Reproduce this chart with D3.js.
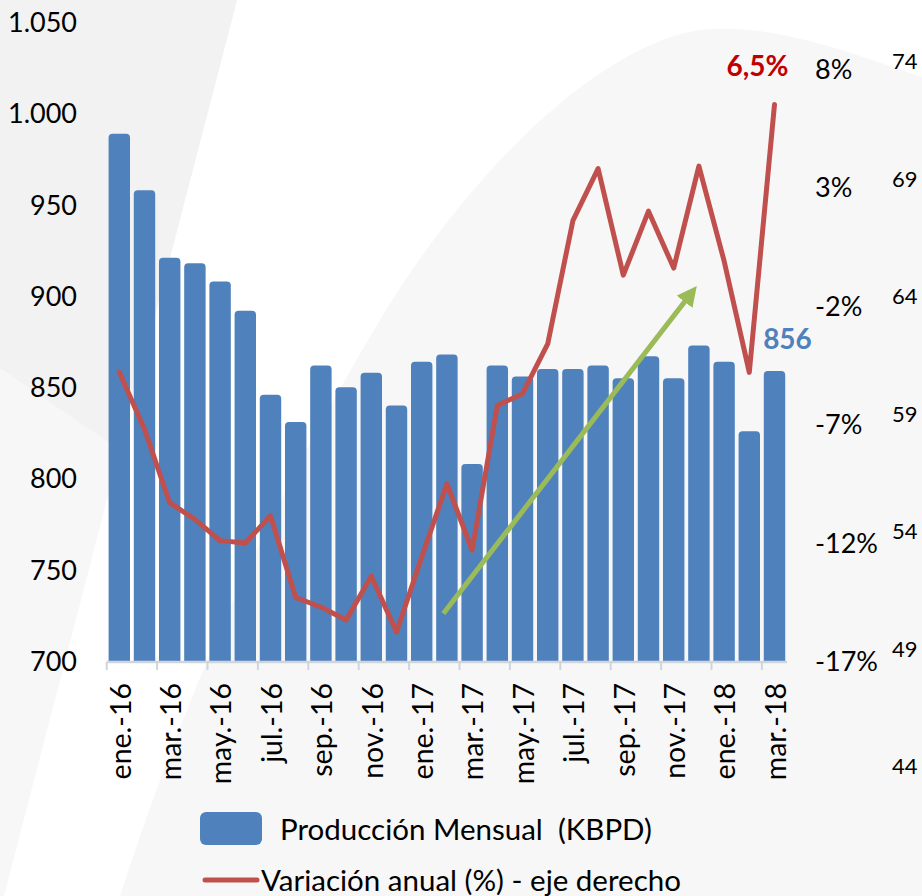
<!DOCTYPE html>
<html>
<head>
<meta charset="utf-8">
<script src="https://cdn.jsdelivr.net/npm/d3@7"></script>
<style>
  html, body { margin: 0; padding: 0; background: #fff; }
  svg { display: block; font-family: Lato, "Open Sans", sans-serif; }
</style>
</head>
<body>
<div id="chart"></div>
<script>
// monthly production (KBPD) and annual change (%)
const months = ["ene.-16","feb.-16","mar.-16","abr.-16","may.-16","jun.-16","jul.-16","ago.-16","sep.-16","oct.-16","nov.-16","dic.-16",
  "ene.-17","feb.-17","mar.-17","abr.-17","may.-17","jun.-17","jul.-17","ago.-17","sep.-17","oct.-17","nov.-17","dic.-17",
  "ene.-18","feb.-18","mar.-18"];
const production = [989, 958, 921, 918, 908, 892, 846, 831, 862, 850, 858, 840,
  864, 868, 808, 862, 856, 860, 860, 862, 855, 867, 855, 873, 864, 826, 859];
const variation = [-4.8, -7.2, -10.3, -11.0, -11.9, -12.0, -10.85, -14.3, -14.7, -15.25, -13.4, -15.75,
  -12.6, -9.5, -12.3, -6.2, -5.7, -3.6, 1.6, 3.8, -0.7, 2.0, -0.4, 3.9, -0.1, -4.8, 6.5];
const leftTicks = [700, 750, 800, 850, 900, 950, 1000, 1050];
const pctTicks = [-17, -12, -7, -2, 3, 8];
const ghostTicks = [44, 49, 54, 59, 64, 69, 74];
const lastProdLabel = 856;
const trendArrow = [[12.86, 726], [23, 907]]; // [category index, KBPD]

const W = 922, H = 896;
const svg = d3.select("#chart").append("svg").attr("width", W).attr("height", H);

// background decoration
svg.append("rect").attr("width", W).attr("height", H).attr("fill", "#f7f7f7");
svg.append("path")
  .attr("d", "M237,0 L922,0 L922,77 C850,52 770,22 700,30 C600,45 470,170 380,320 C290,470 200,650 120,896 L4,896 Z")
  .attr("fill", "#ffffff");
svg.append("path")
  .attr("d", "M0,0 L237,0 L120,450 L0,368 Z")
  .attr("fill", "#f2f2f2");

// scales
const x = d3.scaleBand().domain(months).range([106.7, 787.1]).paddingInner(0.15).paddingOuter(0.075);
const y = d3.scaleLinear().domain([700, 1050]).range([661, 22.5]);
const yPct = d3.scaleLinear().domain([-17, 8]).range([661.5, 69]);
const yGhost = d3.scaleLinear().domain([44, 74]).range([766, 61.5]);
const cx = d => x(d) + x.bandwidth() / 2;
const xIdx = d3.scaleLinear().domain([0, months.length - 1]).range([cx(months[0]), cx(months[months.length - 1])]);

// bars with rounded tops
const r = 4;
svg.append("g").selectAll("path")
  .data(production)
  .join("path")
  .attr("fill", "#4f81bd")
  .attr("d", (d, i) => {
    const x0 = x(months[i]), w = x.bandwidth(), y0 = y(d), yb = y(700);
    return `M${x0},${yb} V${y0 + r} Q${x0},${y0} ${x0 + r},${y0} H${x0 + w - r} Q${x0 + w},${y0} ${x0 + w},${y0 + r} V${yb} Z`;
  });

// category axis
const axisY = y(700) + 1;
svg.append("line")
  .attr("x1", x.range()[0]).attr("x2", x.range()[1])
  .attr("y1", axisY).attr("y2", axisY)
  .attr("stroke", "#d0d5dc").attr("stroke-width", 2.5);
svg.append("g").selectAll("line")
  .data(months.filter((m, i) => i % 2 === 0))
  .join("line")
  .attr("x1", d => x(d) - x.step() * x.paddingInner() / 2)
  .attr("x2", d => x(d) - x.step() * x.paddingInner() / 2)
  .attr("y1", axisY).attr("y2", axisY + 8)
  .attr("stroke", "#d0d5dc").attr("stroke-width", 2);
svg.append("g").selectAll("text")
  .data(months.filter((m, i) => i % 2 === 0))
  .join("text")
  .attr("transform", d => `translate(${cx(d) + 1},683) rotate(-90)`)
  .attr("text-anchor", "end")
  .attr("dy", "0.36em")
  .attr("font-size", 28.5)
  .attr("fill", "#000")
  .text(d => d);

// left axis labels
svg.append("g").selectAll("text")
  .data(leftTicks)
  .join("text")
  .attr("x", 77).attr("y", d => y(d))
  .attr("dy", "0.36em")
  .attr("text-anchor", "end")
  .attr("font-size", 27)
  .text(d => d3.format(",")(d).replace(",", "."));

// right % axis labels
svg.append("g").selectAll("text")
  .data(pctTicks)
  .join("text")
  .attr("x", 815).attr("y", d => yPct(d))
  .attr("dy", "0.36em")
  .attr("font-size", 27)
  .text(d => d + "%");

// far-right secondary labels
svg.append("g").selectAll("text")
  .data(ghostTicks)
  .join("text")
  .attr("x", 892).attr("y", d => yGhost(d))
  .attr("dy", "0.36em")
  .attr("font-size", 22)
  .text(d => d);

// annual variation line
const line = d3.line().x((d, i) => xIdx(i)).y(d => yPct(d));
svg.append("path")
  .datum(variation)
  .attr("d", line)
  .attr("fill", "none")
  .attr("stroke", "#c0504d")
  .attr("stroke-width", 5)
  .attr("stroke-linejoin", "round")
  .attr("stroke-linecap", "round");

// green trend arrow
svg.append("defs").append("marker")
  .attr("id", "head")
  .attr("viewBox", "0 0 10 10")
  .attr("refX", 6).attr("refY", 5)
  .attr("markerWidth", 4).attr("markerHeight", 4)
  .attr("orient", "auto")
  .append("path").attr("d", "M0,0 L10,5 L0,10 Z").attr("fill", "#9bbb59");
svg.append("line")
  .attr("x1", xIdx(trendArrow[0][0])).attr("y1", y(trendArrow[0][1]))
  .attr("x2", xIdx(trendArrow[1][0]) - 7).attr("y2", y(trendArrow[1][1]) + 9)
  .attr("stroke", "#9bbb59").attr("stroke-width", 5)
  .attr("marker-end", "url(#head)");

// data labels
const lastI = months.length - 1;
svg.append("text")
  .attr("x", xIdx(lastI) - 17).attr("y", yPct(variation[lastI]) - 29)
  .attr("text-anchor", "middle")
  .attr("font-size", 28).attr("font-weight", "bold")
  .attr("fill", "#c00000")
  .text(d3.format(".1f")(variation[lastI]).replace(".", ",") + "%");
svg.append("text")
  .attr("x", xIdx(lastI) + 13).attr("y", y(production[lastI]) - 22)
  .attr("text-anchor", "middle")
  .attr("font-size", 28).attr("font-weight", "bold")
  .attr("fill", "#4f81bd")
  .text(lastProdLabel);

// legend
const lg = svg.append("g");
lg.append("rect").attr("x", 200).attr("y", 812).attr("width", 62).attr("height", 33).attr("rx", 6)
  .attr("fill", "#4f81bd");
lg.append("text").attr("x", 280).attr("y", 829).attr("dy", "0.36em").attr("font-size", 29.5)
  .attr("xml:space", "preserve")
  .text("Producción Mensual  (KBPD)");
lg.append("line").attr("x1", 205).attr("x2", 257).attr("y1", 880).attr("y2", 880)
  .attr("stroke", "#c0504d").attr("stroke-width", 5).attr("stroke-linecap", "round");
lg.append("text").attr("x", 261).attr("y", 880).attr("dy", "0.36em").attr("font-size", 29.5)
  .text("Variación anual (%) - eje derecho");
</script>
</body>
</html>
